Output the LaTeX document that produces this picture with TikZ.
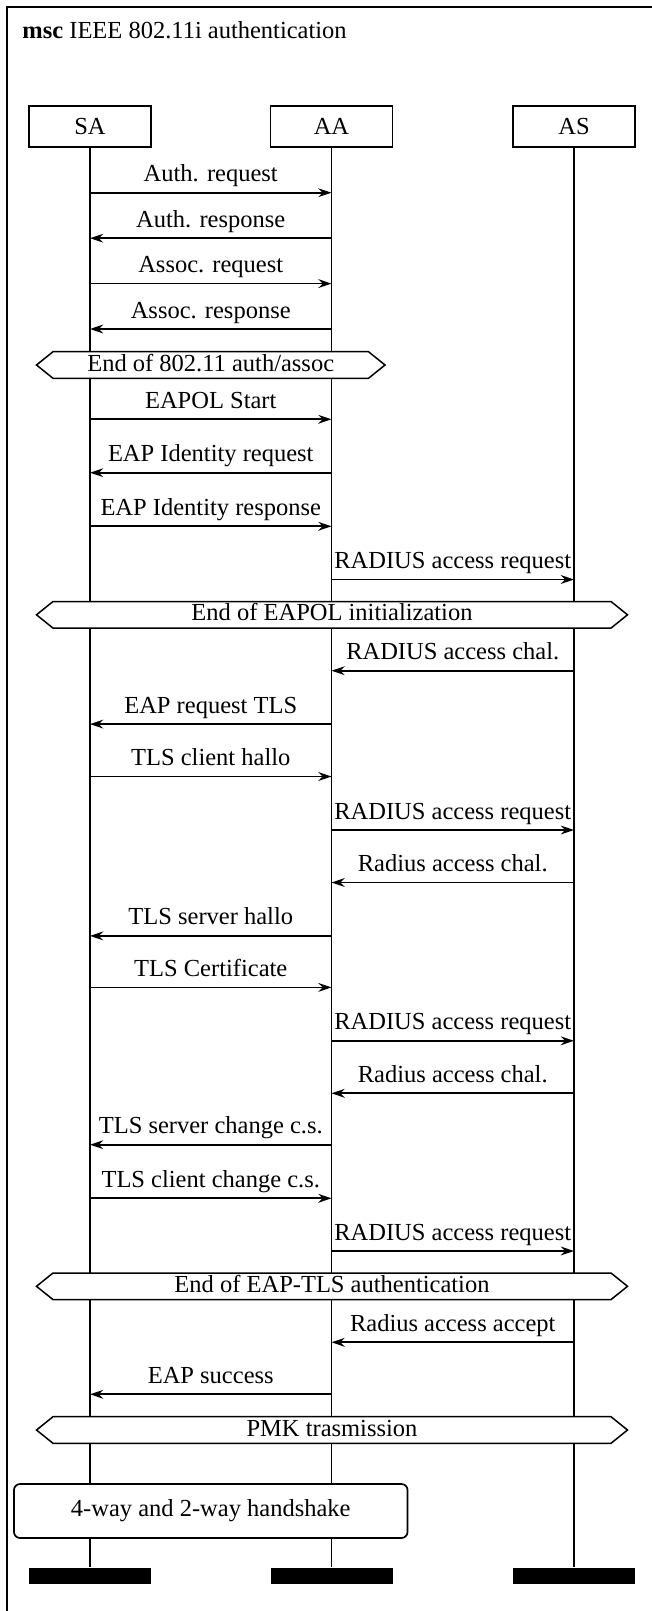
\documentclass[tikz,border=0pt]{standalone}
\usepackage{fontspec}
\setmainfont{Liberation Serif}
\usetikzlibrary{arrows.meta}
\tikzset{
  mscline/.style={line width=0.85pt},
  msgarrow/.style={line width=0.85pt, -{Stealth[length=6.6pt,width=4.4pt,inset=2.2pt]}},
  msglabel/.style={anchor=base, yshift=5.5pt, inner sep=0pt},
  instbox/.style={draw, line width=0.85pt, minimum width=61pt, minimum height=20.5pt, inner sep=0pt},
  hexline/.style={line width=0.75pt, draw, fill=white},
  hextext/.style={anchor=base, yshift=-3pt, inner sep=0pt},
  actbox/.style={draw, line width=0.85pt, fill=white, rounded corners=3pt, minimum width=196.75pt, minimum height=27pt, inner sep=0pt},
  endbar/.style={fill=black, minimum width=61pt, minimum height=8.3pt, inner sep=0pt},
}
\newcommand{\mscmsg}[5]{%
  \coordinate (#1a) at (#2,#4);
  \coordinate (#1b) at (#3,#4);
  \draw[msgarrow] (#1a) -- (#1b) node[msglabel, pos=0.5] {#5};
}
\newcommand{\mschex}[5]{%
  \draw[hexline] (#2,#4) -- ({#2+16.5},{#4-13.3}) -- ({#3-16.5},{#4-13.3}) -- (#3,#4)
     -- ({#3-16.5},{#4+13.3}) -- ({#2+16.5},{#4+13.3}) -- cycle;
  \node[hextext] (#1) at ({(#2+#3)/2},#4) {#5};
}
\begin{document}
\begin{tikzpicture}[x=0.5pt, y=-0.5pt, font=\fontsize{12.25pt}{14pt}\selectfont]
\useasboundingbox (0,0) rectangle (652,1611);
% frame
\draw[mscline] (6.7,1611) -- (6.7,7) -- (652,7);
\node[anchor=base west, inner sep=0pt] (title) at (22,38.5) {\textbf{msc} IEEE 802.11i authentication};
% instances
\node[instbox] (SA) at (90,126.5) {SA};
\node[instbox] (AA) at (331.5,126.5) {AA};
\node[instbox] (AS) at (574,126.5) {AS};
\node[endbar] (SAend) at (90,1576) {};
\node[endbar] (AAend) at (331.5,1576) {};
\node[endbar] (ASend) at (574,1576) {};
\draw[mscline] (SA.south) -- (SAend.north);
\draw[mscline] (AA.south) -- (AAend.north);
\draw[mscline] (AS.south) -- (ASend.north);
% messages
\mscmsg{m1}{90}{331.5}{192.7}{Auth. request}
\mscmsg{m2}{331.5}{90}{238.2}{Auth. response}
\mscmsg{m3}{90}{331.5}{283.6}{Assoc. request}
\mscmsg{m4}{331.5}{90}{329}{Assoc. response}
\mschex{h1}{36.5}{385}{365}{End of 802.11 auth/assoc}
\mscmsg{m5}{90}{331.5}{419.3}{EAPOL Start}
\mscmsg{m6}{331.5}{90}{472.7}{EAP Identity request}
\mscmsg{m7}{90}{331.5}{526.3}{EAP Identity response}
\mscmsg{m8}{331.5}{574}{579.5}{RADIUS access request}
\mschex{h2}{36.5}{627.5}{614.8}{End of EAPOL initialization}
\mscmsg{m9}{574}{331.5}{670.7}{RADIUS access chal.}
\mscmsg{m10}{331.5}{90}{724.1}{EAP request TLS}
\mscmsg{m11}{90}{331.5}{776.5}{TLS client hallo}
\mscmsg{m12}{331.5}{574}{830}{RADIUS access request}
\mscmsg{m13}{574}{331.5}{882.5}{Radius access chal.}
\mscmsg{m14}{331.5}{90}{935.9}{TLS server hallo}
\mscmsg{m15}{90}{331.5}{987.4}{TLS Certificate}
\mscmsg{m16}{331.5}{574}{1040.8}{RADIUS access request}
\mscmsg{m17}{574}{331.5}{1093.3}{Radius access chal.}
\mscmsg{m18}{331.5}{90}{1144.7}{TLS server change c.s.}
\mscmsg{m19}{90}{331.5}{1198.3}{TLS client change c.s.}
\mscmsg{m20}{331.5}{574}{1251}{RADIUS access request}
\mschex{h3}{36.5}{627.5}{1286.3}{End of EAP-TLS authentication}
\mscmsg{m21}{574}{331.5}{1342.3}{Radius access accept}
\mscmsg{m22}{331.5}{90}{1394.3}{EAP success}
\mschex{h4}{36.5}{627.5}{1430}{PMK trasmission}
\node[actbox] (hs) at (210.75,1511) {4-way and 2-way handshake};
\end{tikzpicture}
\end{document}
